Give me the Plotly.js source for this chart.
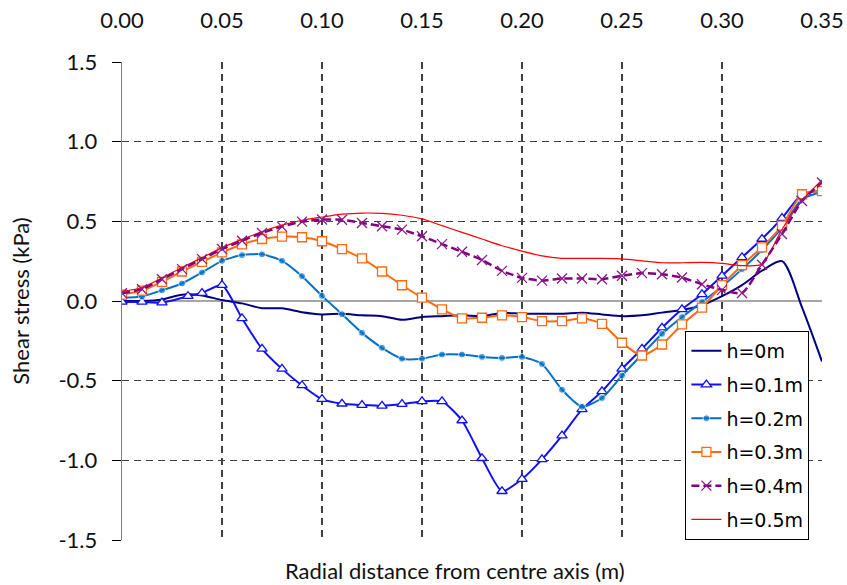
<!DOCTYPE html>
<html>
<head>
<meta charset="utf-8">
<script src="https://cdn.plot.ly/plotly-3.0.1.min.js"></script>
<style>html,body{margin:0;padding:0;background:#fff;}#chart{width:847px;height:585px;}</style>
</head>
<body>
<div id="chart"></div>
<script>
// Radial distance (m)
const xs = [0.00,0.01,0.02,0.03,0.04,0.05,0.06,0.07,0.08,0.09,0.10,0.11,0.12,0.13,0.14,0.15,0.16,0.17,0.18,0.19,0.20,0.21,0.22,0.23,0.24,0.25,0.26,0.27,0.28,0.29,0.30,0.31,0.32,0.33,0.34,0.35];
const xsH01 = [0.00,0.01,0.02,0.033,0.04,0.05,0.06,0.07,0.08,0.09,0.10,0.11,0.12,0.13,0.14,0.15,0.16,0.17,0.18,0.19,0.20,0.21,0.22,0.23,0.24,0.25,0.26,0.27,0.28,0.29,0.30,0.31,0.32,0.33,0.34,0.35];

// Shear stress (kPa)
const h0  = [0.00,0.00,0.01,0.04,0.035,0.006,-0.015,-0.045,-0.046,-0.07,-0.084,-0.08,-0.09,-0.095,-0.118,-0.10,-0.095,-0.09,-0.095,-0.075,-0.08,-0.08,-0.08,-0.073,-0.084,-0.095,-0.09,-0.073,-0.057,-0.027,0.03,0.10,0.19,0.25,-0.04,-0.38];
const h01 = [-0.006,-0.006,-0.01,0.03,0.05,0.10,-0.109,-0.30,-0.426,-0.53,-0.616,-0.645,-0.653,-0.658,-0.647,-0.63,-0.63,-0.75,-0.987,-1.194,-1.118,-0.994,-0.845,-0.68,-0.567,-0.426,-0.30,-0.168,-0.052,0.042,0.158,0.274,0.389,0.52,0.67,0.69];
const h02 = [0.02,0.028,0.067,0.11,0.179,0.252,0.288,0.293,0.252,0.156,0.032,-0.083,-0.20,-0.294,-0.362,-0.362,-0.336,-0.336,-0.351,-0.357,-0.351,-0.395,-0.557,-0.664,-0.609,-0.468,-0.336,-0.206,-0.101,-0.006,0.09,0.20,0.32,0.46,0.64,0.685];
const h03 = [0.04,0.065,0.12,0.185,0.245,0.305,0.355,0.389,0.404,0.40,0.375,0.326,0.267,0.185,0.099,0.021,-0.052,-0.109,-0.105,-0.09,-0.101,-0.126,-0.126,-0.109,-0.143,-0.262,-0.342,-0.273,-0.147,-0.042,0.10,0.225,0.337,0.473,0.67,0.69];
const h04 = [0.049,0.074,0.137,0.20,0.263,0.326,0.378,0.427,0.467,0.498,0.511,0.51,0.49,0.469,0.448,0.406,0.357,0.309,0.257,0.189,0.145,0.128,0.141,0.141,0.137,0.158,0.175,0.168,0.147,0.105,0.07,0.05,0.228,0.42,0.628,0.744];
const h05 = [0.06,0.085,0.145,0.21,0.272,0.335,0.387,0.436,0.476,0.507,0.527,0.545,0.552,0.55,0.538,0.515,0.473,0.431,0.389,0.347,0.313,0.283,0.268,0.267,0.267,0.264,0.252,0.24,0.24,0.242,0.236,0.222,0.23,0.45,0.63,0.76];

const seriesNames = ["h=0m","h=0.1m","h=0.2m","h=0.3m","h=0.4m","h=0.5m"];

const xTickVals = [0.00,0.05,0.10,0.15,0.20,0.25,0.30,0.35];
const xTickText = ["0.00","0.05","0.10","0.15","0.20","0.25","0.30","0.35"];
const yTickVals = [-1.5,-1.0,-0.5,0.0,0.5,1.0,1.5];
const yTickText = ["-1.5","-1.0","-0.5","0.0","0.5","1.0","1.5"];

const tickFont = {family: "Lato, 'Open Sans', sans-serif", size: 22, color: "#111"};

const traces = [
  {x: xs, y: h0, name: seriesNames[0], mode: "lines", legendrank: 1, legendgroup: "a",
   line: {color: "#000080", width: 2, shape: "spline", smoothing: 0.8}},
  {x: xsH01, y: h01, name: seriesNames[1], mode: "lines+markers", legendrank: 2, legendgroup: "b",
   line: {color: "#1010F0", width: 2, shape: "spline", smoothing: 0.6},
   marker: {symbol: "triangle-up", size: 9, color: "#ffffff", line: {color: "#1010F0", width: 1.3}}},
  {x: xs, y: h02, name: seriesNames[2], mode: "lines+markers", legendrank: 3, legendgroup: "c",
   line: {color: "#0070C8", width: 2, shape: "spline", smoothing: 0.6},
   marker: {symbol: "circle", size: xs.map((v, i) => i === 0 ? 0 : 7), color: "#0070C8"}},
  {x: xs, y: h03, name: seriesNames[3], mode: "lines+markers", legendrank: 4, legendgroup: "d",
   line: {color: "#FF6A10", width: 2, shape: "spline", smoothing: 0.6},
   marker: {symbol: "square", size: 9, color: "#ffffff", line: {color: "#FF6A10", width: 1.3}}},
  {x: xs, y: h05, name: seriesNames[5], mode: "lines", legendrank: 6, legendgroup: "f",
   line: {color: "#FF0000", width: 1.2, shape: "spline", smoothing: 0.6}},
  {x: xs, y: h04, name: seriesNames[4], mode: "lines+markers", legendrank: 5, legendgroup: "e",
   line: {color: "#800080", width: 2.5, shape: "spline", smoothing: 0.6, dash: "8px,4px"},
   marker: {symbol: "x-thin-open", size: 10, color: "#8B1A8B", line: {color: "#8B1A8B", width: 1.3}}}
];

const layout = {
  width: 847, height: 585,
  margin: {l: 122, r: 25, t: 62, b: 45, pad: 0},
  paper_bgcolor: "#ffffff", plot_bgcolor: "#ffffff",
  showlegend: true,
  legend: {
    x: 0.982, xanchor: "right", y: 0, yanchor: "bottom",
    bgcolor: "#ffffff", bordercolor: "#000000", borderwidth: 1,
    font: {family: "'DejaVu Sans', sans-serif", size: 19, color: "#000"},
    traceorder: "grouped", tracegroupgap: 6
  },
  xaxis: {
    side: "top", range: [0, 0.35], autorange: false,
    tickvals: xTickVals, ticktext: xTickText,
    tickfont: tickFont, ticks: "", ticklabelstandoff: 29,
    showgrid: true, gridcolor: "#404040", gridwidth: 1.2, griddash: "7px,5px",
    zeroline: false, showline: false
  },
  yaxis: {
    range: [-1.5, 1.5], autorange: false,
    tickvals: yTickVals, ticktext: yTickText,
    tickfont: tickFont, ticks: "outside", ticklen: 9, tickcolor: "#000", tickwidth: 1,
    ticklabelstandoff: 10,
    showgrid: true, gridcolor: "#404040", gridwidth: 1.2, griddash: "7px,5px",
    zeroline: true, zerolinecolor: "#A6A6A6", zerolinewidth: 1.5,
    showline: true, linecolor: "#808080", linewidth: 1.3,
    title: {text: "Shear stress (kPa)", font: tickFont, standoff: 22}
  },
  annotations: [{
    text: "Radial distance from centre axis (m)", showarrow: false,
    xref: "paper", yref: "paper", x: 0.476, y: 0, yshift: -30, yanchor: "middle",
    font: tickFont
  }]
};

Plotly.newPlot("chart", traces, layout, {staticPlot: true, displayModeBar: false});
</script>
</body>
</html>
